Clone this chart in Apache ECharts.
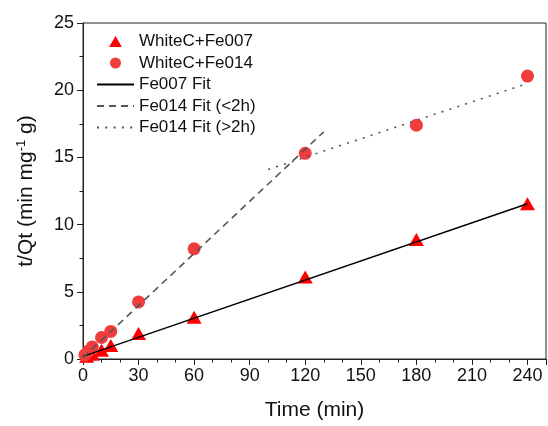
<!DOCTYPE html>
<html lang="en">
<head>
<meta charset="UTF-8">
<title>t/Qt kinetics</title>
<style>
  html, body { margin: 0; padding: 0; background: #fff; }
  #chart { width: 548px; height: 426px; }
</style>
</head>
<body>
<div id="chart"></div>
<script src="https://cdn.jsdelivr.net/npm/echarts@6/dist/echarts.min.js"></script>
<script>
// measured points
const fe007Time = [2, 5, 10, 15, 30, 60, 120, 180, 240];
const fe007Val = [0.2, 0.35, 0.65, 1.0, 1.9, 3.1, 6.1, 8.9, 11.55];
const fe014Time = [1, 3, 5, 10, 15, 30, 60, 120, 180, 240];
const fe014Val = [0.3, 0.6, 0.9, 1.6, 2.05, 4.25, 8.2, 15.3, 17.4, 21.05];

// fit line end points
const fe007FitX = [0, 240];
const fe007FitY = [0.2, 11.55];
const fe014FitShortX = [0, 130];
const fe014FitShortY = [0.1, 16.9];
const fe014FitLongX = [100, 240];
const fe014FitLongY = [14.1, 20.5];

const xTicks = [0, 30, 60, 90, 120, 150, 180, 210, 240];

const pair = (xs, ys) => xs.map((x, i) => [x, ys[i]]);

const chart = echarts.init(document.getElementById('chart'));
const font = 'Liberation Sans, Arial, sans-serif';
const axisColor = '#222';
// hides the symbol drawn in the middle of line legend icons
const noDot = { color: 'transparent', borderWidth: 0 };
// path icon so the legend triangle keeps its shape
const triIcon = 'path://M0,12 L7,0 L14,12 Z';

const option = {
  backgroundColor: '#fff',
  animation: false,
  textStyle: { fontFamily: font },
  grid: {
    left: 83, right: 2, top: 23, bottom: 64,
    show: true, borderColor: axisColor, borderWidth: 1
  },
  legend: {
    orient: 'vertical',
    left: 96, top: 33, padding: 0,
    itemWidth: 37, itemHeight: 11, itemGap: 4.5,
    textStyle: { fontSize: 17, color: '#111', fontFamily: font },
    data: [
      { name: 'WhiteC+Fe007', icon: triIcon },
      { name: 'WhiteC+Fe014', icon: 'circle' },
      { name: 'Fe007 Fit', itemStyle: noDot },
      { name: 'Fe014 Fit (<2h)', itemStyle: noDot },
      { name: 'Fe014 Fit (>2h)', itemStyle: noDot }
    ]
  },
  xAxis: {
    type: 'value', min: 0, max: 250, interval: 30,
    name: 'Time (min)', nameLocation: 'middle', nameGap: 41,
    nameTextStyle: { fontSize: 21, color: '#111' },
    axisLine: { lineStyle: { color: axisColor, width: 1 } },
    axisTick: { show: true, inside: false, length: 6, lineStyle: { color: axisColor } },
    minorTick: { show: true, splitNumber: 3, length: 3.5, lineStyle: { color: axisColor } },
    axisLabel: {
      fontSize: 18, color: '#111', margin: 8, showMaxLabel: false,
      formatter: v => xTicks.includes(v) ? String(v) : ''
    },
    splitLine: { show: false }
  },
  yAxis: {
    type: 'value', min: 0, max: 25, interval: 5,
    name: '{n|t/Qt (min mg}{s|-1}{n| g)}', nameLocation: 'middle', nameGap: 46,
    nameTextStyle: {
      fontSize: 21, color: '#111',
      rich: {
        n: { fontSize: 21, color: '#111', fontFamily: font },
        s: { fontSize: 13, color: '#111', fontFamily: font, verticalAlign: 'top', padding: [0, 0, 9, 0] }
      }
    },
    axisLine: { lineStyle: { color: axisColor, width: 1 } },
    axisTick: { show: true, inside: false, length: 6, lineStyle: { color: axisColor } },
    minorTick: { show: true, splitNumber: 2, length: 3.5, lineStyle: { color: axisColor } },
    axisLabel: { fontSize: 18, color: '#111', margin: 9 },
    splitLine: { show: false }
  },
  series: [
    {
      name: 'WhiteC+Fe007', type: 'scatter', symbol: 'triangle', symbolSize: [15, 13],
      itemStyle: { color: '#ff0000', opacity: 1 },
      data: pair(fe007Time, fe007Val), z: 2
    },
    {
      name: 'WhiteC+Fe014', type: 'scatter', symbol: 'circle', symbolSize: 13,
      itemStyle: { color: '#f03c3c', opacity: 1 },
      data: pair(fe014Time, fe014Val), z: 2
    },
    {
      name: 'Fe007 Fit', type: 'line', symbol: 'none', showSymbol: false,
      lineStyle: { color: '#000', width: 1.4, type: 'solid' },
      itemStyle: { color: '#000' },
      data: pair(fe007FitX, fe007FitY), z: 3
    },
    {
      name: 'Fe014 Fit (<2h)', type: 'line', symbol: 'none', showSymbol: false,
      lineStyle: { color: '#555', width: 1.6, type: [7, 5] },
      itemStyle: { color: '#555' },
      data: pair(fe014FitShortX, fe014FitShortY), z: 3
    },
    {
      name: 'Fe014 Fit (>2h)', type: 'line', symbol: 'none', showSymbol: false,
      lineStyle: { color: '#555', width: 1.6, type: [2, 6.3] },
      itemStyle: { color: '#555' },
      data: pair(fe014FitLongX, fe014FitLongY), z: 3
    }
  ]
};

chart.setOption(option);
</script>
</body>
</html>
